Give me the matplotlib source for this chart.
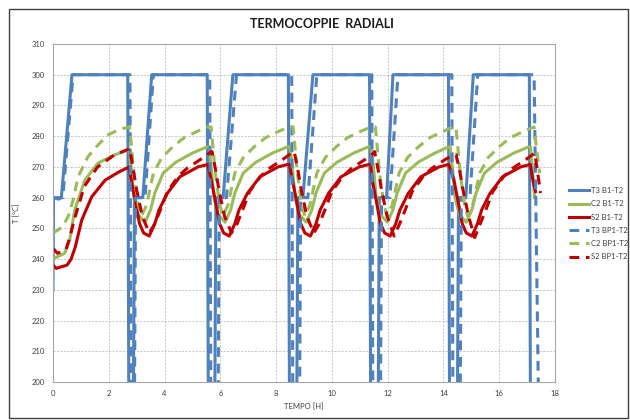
import matplotlib
matplotlib.use("Agg")
import matplotlib.pyplot as plt
from matplotlib.patches import Rectangle

plt.rcParams["font.family"] = ["Lato", "DejaVu Sans"]

# T3 B1-T2 (solid blue)
t3_b1_t = [0, 0.02, 0.2, 0.3, 0.68, 2.68, 2.72, 2.88, 2.92, 3.22, 3.54, 5.53, 5.57, 5.80, 5.84,
           6.10, 6.45, 8.44, 8.48, 8.74, 8.78, 8.96, 9.32, 11.35, 11.39, 11.66, 11.70, 11.96,
           12.19, 14.18, 14.22, 14.50, 14.54, 14.80, 15.07, 17.08, 17.12]
t3_b1_v = [230, 260, 259.5, 260, 300, 300, 190, 190, 260, 260, 300, 300, 190, 190, 260,
           260, 300, 300, 190, 190, 260, 260, 300, 300, 190, 190, 260, 260,
           300, 300, 190, 190, 260, 260, 300, 300, 190]

# T3 BP1-T2 (dashed blue)
t3_bp1_t = [0, 0.35, 0.72, 2.76, 2.80, 2.92, 2.96, 3.30, 3.60, 5.62, 5.66, 5.92, 5.96, 6.22,
            6.58, 8.56, 8.60, 8.84, 8.88, 9.14, 9.46, 11.43, 11.47, 11.74, 11.78, 12.08, 12.37,
            14.30, 14.34, 14.60, 14.64, 14.95, 15.23, 17.25, 17.40]
t3_bp1_v = [260, 260, 300, 300, 190, 190, 260, 260, 300, 300, 190, 190, 260, 260,
            300, 300, 190, 190, 260, 260, 300, 300, 190, 190, 260, 260, 300,
            300, 190, 190, 260, 260, 300, 300, 200]

# C2 B1-T2 (solid green)
c2_b1_t = [0, 0.1, 0.42, 0.6, 0.78, 1.14, 1.61, 2.21, 2.69, 2.73,
           2.80, 2.90, 3.05, 3.30, 3.50, 3.65, 3.95, 4.40, 5.00, 5.52, 5.60,
           5.67, 5.77, 5.92, 6.17, 6.37, 6.52, 6.82, 7.27, 7.87, 8.40, 8.50,
           8.58, 8.68, 8.83, 9.08, 9.28, 9.43, 9.73, 10.18, 10.78, 11.30, 11.41,
           11.49, 11.59, 11.74, 11.99, 12.19, 12.34, 12.64, 13.09, 13.69, 14.18, 14.24,
           14.32, 14.42, 14.57, 14.82, 15.02, 15.17, 15.47, 15.92, 16.52, 17.05, 17.12,
           17.20, 17.27]
c2_b1_v = [240.3, 240.5, 241.9, 246.2, 256, 265.7, 271.2, 273.9, 275.5, 276,
           270, 260, 254.5, 252, 256, 261.5, 268, 271.5, 274.5, 276.5, 276.5,
           270, 260, 254.5, 252, 256, 261.5, 268, 271.5, 274.5, 276.5, 276.5,
           270, 260, 254.5, 252, 256, 261.5, 268, 271.5, 274.5, 276.5, 276.5,
           270, 260, 254.5, 252, 256, 261.5, 268, 271.5, 274.5, 276.5, 276.5,
           270, 260, 254.5, 252, 256, 261.5, 268, 271.5, 274.5, 276.5, 276.5,
           268, 260]

# C2 BP1-T2 (dashed green)
c2_bp1_t = [0, 0.34, 0.54, 0.72, 0.9, 1.25, 1.61, 1.97, 2.4, 2.75,
            2.90, 3.05, 3.17, 3.35, 3.60, 3.90, 4.30, 4.70, 5.15, 5.55,
            5.67, 5.82, 5.97, 6.09, 6.27, 6.52, 6.82, 7.22, 7.62, 8.07, 8.47,
            8.61, 8.76, 8.91, 9.03, 9.21, 9.46, 9.76, 10.16, 10.56, 11.01, 11.41,
            11.56, 11.71, 11.86, 11.98, 12.16, 12.41, 12.71, 13.11, 13.51, 13.96, 14.36,
            14.45, 14.60, 14.75, 14.87, 15.05, 15.30, 15.60, 16.00, 16.40, 16.85, 17.25,
            17.35, 17.45]
c2_bp1_v = [248.4, 250.5, 253.8, 259.2, 266.8, 273.3, 277.1, 280.4, 282.3, 283,
            268, 258, 254, 257.5, 268, 273, 276.6, 279.5, 281.5, 283,
            283, 268, 258, 254, 257.5, 268, 273, 276.6, 279.5, 281.5, 283,
            283, 268, 258, 254, 257.5, 268, 273, 276.6, 279.5, 281.5, 283,
            283, 268, 258, 254, 257.5, 268, 273, 276.6, 279.5, 281.5, 283,
            283, 268, 258, 254, 257.5, 268, 273, 276.6, 279.5, 281.5, 283,
            275, 268]

# S2 B1-T2 (solid red)
s2_b1_t = [0, 0.12, 0.3, 0.5, 0.65, 0.8, 1.03, 1.39, 1.87, 2.37, 2.69, 2.72,
           2.80, 2.95, 3.10, 3.25, 3.45, 3.65, 3.80, 4.10, 4.55, 5.20, 5.55,
           5.67, 5.82, 5.97, 6.12, 6.32, 6.52, 6.67, 6.97, 7.42, 8.07, 8.42, 8.48,
           8.58, 8.73, 8.88, 9.03, 9.23, 9.43, 9.58, 9.88, 10.33, 10.98, 11.33, 11.39,
           11.44, 11.59, 11.74, 11.89, 12.09, 12.29, 12.44, 12.74, 13.19, 13.84, 14.19,
           14.37, 14.52, 14.67, 14.82, 15.02, 15.22, 15.37, 15.67, 16.12, 16.77, 17.12,
           17.20, 17.30]
s2_b1_v = [238, 237, 237.5, 238, 240, 244, 252.7, 260.3, 265.7, 268.4, 269.8, 270,
           266, 259, 251.6, 248.5, 247.5, 251.5, 256, 261.4, 266.8, 270, 270.8,
           266, 259, 251.6, 248.5, 247.5, 251.5, 256, 261.4, 266.8, 270, 270.8, 270.8,
           266, 259, 251.6, 248.5, 247.5, 251.5, 256, 261.4, 266.8, 270, 270.8, 270.8,
           266, 259, 251.6, 248.5, 247.5, 251.5, 256, 261.4, 266.8, 270, 270.8,
           266, 259, 251.6, 248.5, 247.5, 251.5, 256, 261.4, 266.8, 270, 270.8,
           266, 262]

# S2 BP1-T2 (dashed red)
s2_bp1_t = [0, 0.16, 0.46, 0.6, 0.76, 1.12, 1.6, 2.2, 2.69, 2.75,
            2.88, 3.00, 3.20, 3.45, 3.65, 3.85, 4.10, 4.50, 4.80, 5.30, 5.60,
            5.70, 5.83, 5.95, 6.15, 6.40, 6.60, 6.80, 7.05, 7.45, 7.75, 8.25, 8.55,
            8.65, 8.78, 8.90, 9.10, 9.35, 9.55, 9.75, 10.00, 10.40, 10.70, 11.20, 11.50,
            11.53, 11.66, 11.78, 11.98, 12.23, 12.43, 12.63, 12.88, 13.28, 13.58, 14.08, 14.38,
            14.45, 14.58, 14.70, 14.90, 15.12, 15.32, 15.52, 15.77, 16.17, 16.47, 16.97, 17.27,
            17.35, 17.48]
s2_bp1_v = [243.5, 241.9, 243, 247, 252.7, 263.6, 270, 273.9, 275.7, 276,
            269, 262.5, 254, 248.5, 251.5, 256, 262, 267, 269.5, 272.5, 274.5,
            275, 269, 262.5, 254, 248.5, 251.5, 256, 262, 267, 269.5, 272.5, 274.5,
            275, 269, 262.5, 254, 248.5, 251.5, 256, 262, 267, 269.5, 272.5, 274.5,
            275, 269, 262.5, 254, 247.5, 251.5, 256, 262, 267, 269.5, 272.5, 274,
            274, 269, 262.5, 254, 247, 251.5, 256, 262, 267, 269.5, 272.5, 274.5,
            270, 261.5]

blue = "#4F81BD"
green = "#9BBB59"
red = "#C00000"
txt = "#404040"

fig = plt.figure(figsize=(6.3, 4.2), dpi=100)
ax = fig.add_axes([53 / 630, 1 - 382 / 420, (555 - 53) / 630, (382 - 44) / 420])

lw = 2.2
dash = (0, (3.2, 2.2))
ax.plot(t3_b1_t, t3_b1_v, color=blue, lw=lw, label="T3 B1-T2")
ax.plot(c2_b1_t, c2_b1_v, color=green, lw=lw, label="C2 B1-T2")
ax.plot(s2_b1_t, s2_b1_v, color=red, lw=lw, label="S2 B1-T2")
ax.plot(t3_bp1_t, t3_bp1_v, color=blue, lw=lw, ls=dash, label="T3 BP1-T2")
ax.plot(c2_bp1_t, c2_bp1_v, color=green, lw=lw, ls=dash, label="C2 BP1-T2")
ax.plot(s2_bp1_t, s2_bp1_v, color=red, lw=lw, ls=dash, label="S2 BP1-T2")

ax.set_xlim(0, 18)
ax.set_ylim(200, 310)
ax.set_xticks(range(0, 19, 2))
ax.set_yticks(range(200, 311, 10))
ax.grid(True, color="#b0b0b0", ls=(0, (3, 2)), lw=0.5)
for s in ax.spines.values():
    s.set_color("#a6a6a6")
    s.set_linewidth(0.8)
ax.tick_params(labelsize=5.5, colors=txt, length=0, pad=6)
ax.set_xlabel("TEMPO [H]", fontsize=5.5, color=txt, labelpad=4)
ax.set_ylabel("T [°C]", fontsize=5.5, color=txt, labelpad=8)

fig.text(322 / 630, 1 - 24 / 420, "TERMOCOPPIE  RADIALI", ha="center", va="center",
         fontsize=9, fontweight="bold", color="#1a1a1a")

leg = fig.legend(loc="upper left", bbox_to_anchor=(566 / 630, 1 - 184 / 420),
                 frameon=False, fontsize=5.5, handlelength=2.6, labelspacing=0.82,
                 handletextpad=0.3, borderaxespad=0)
for t in leg.get_texts():
    t.set_color(txt)

fig.patches.append(Rectangle((9 / 630, 2 / 420), 619 / 630, 409 / 420,
                             transform=fig.transFigure, fill=False,
                             edgecolor="#404040", lw=1.0))

fig.savefig("out.png", dpi=100)
